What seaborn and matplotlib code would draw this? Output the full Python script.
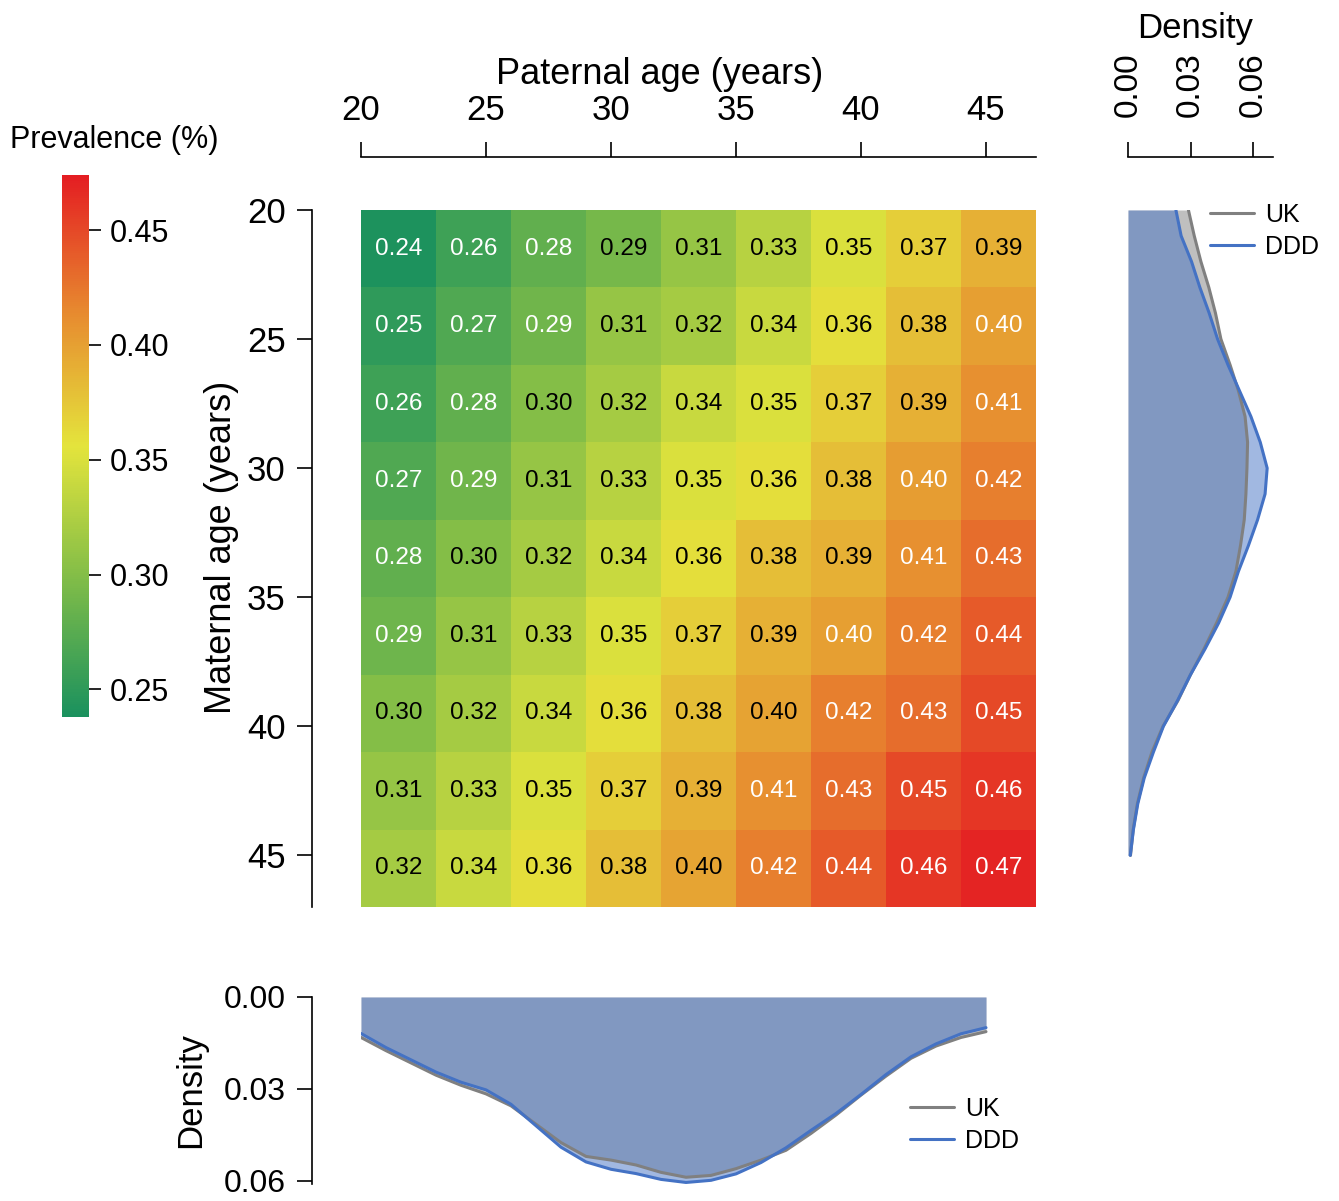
import numpy as np
import pandas as pd
import matplotlib
matplotlib.use("Agg")
import matplotlib.pyplot as plt
from matplotlib.colors import LinearSegmentedColormap
import seaborn as sns

# ---- prevalence grid (rows: maternal age bin, columns: paternal age bin) ----
maternal_ages = [20, 23, 26, 29, 32, 35, 38, 41, 44]
paternal_ages = [20, 23, 26, 29, 32, 35, 38, 41, 44]

prev_m20 = [0.24, 0.26, 0.28, 0.292, 0.31, 0.33, 0.35, 0.37, 0.39]
prev_m23 = [0.25, 0.27, 0.288, 0.31, 0.32, 0.34, 0.36, 0.38, 0.401]
prev_m26 = [0.26, 0.28, 0.30, 0.32, 0.34, 0.35, 0.37, 0.39, 0.41]
prev_m29 = [0.27, 0.288, 0.31, 0.33, 0.35, 0.36, 0.38, 0.402, 0.42]
prev_m32 = [0.28, 0.30, 0.32, 0.34, 0.36, 0.38, 0.39, 0.41, 0.43]
prev_m35 = [0.287, 0.31, 0.33, 0.35, 0.37, 0.39, 0.401, 0.42, 0.44]
prev_m38 = [0.30, 0.32, 0.34, 0.36, 0.38, 0.398, 0.42, 0.43, 0.45]
prev_m41 = [0.31, 0.33, 0.35, 0.37, 0.39, 0.41, 0.43, 0.45, 0.46]
prev_m44 = [0.32, 0.34, 0.36, 0.38, 0.397, 0.42, 0.44, 0.46, 0.47]

age_ticks = [20, 25, 30, 35, 40, 45]
cbar_ticks = [0.25, 0.30, 0.35, 0.40, 0.45]
density_ticks = [0.00, 0.03, 0.06]

# ---- age distributions (density per year of age) ----
density_ages = list(range(20, 46))
maternal_uk = [0.0290, 0.0318, 0.0350, 0.0388, 0.0420, 0.0446, 0.0490, 0.0530,
               0.0562, 0.0574, 0.0571, 0.0566, 0.0558, 0.0540, 0.0518, 0.0480,
               0.0425, 0.0365, 0.0300, 0.0240, 0.0168, 0.0115, 0.0075, 0.0045,
               0.0025, 0.0012]
maternal_ddd = [0.0230, 0.0255, 0.0305, 0.0345, 0.0390, 0.0430, 0.0480, 0.0535,
                0.0590, 0.0635, 0.0668, 0.0658, 0.0622, 0.0578, 0.0530, 0.0490,
                0.0435, 0.0370, 0.0300, 0.0238, 0.0170, 0.0122, 0.0078, 0.0047,
                0.0026, 0.0011]
paternal_uk = [0.0132, 0.0175, 0.0215, 0.0255, 0.0288, 0.0316, 0.0355, 0.0415,
               0.0475, 0.0520, 0.0532, 0.0548, 0.0572, 0.0588, 0.0582, 0.0560,
               0.0532, 0.0500, 0.0445, 0.0385, 0.0320, 0.0258, 0.0200, 0.0160,
               0.0132, 0.0113]
paternal_ddd = [0.0119, 0.0165, 0.0205, 0.0245, 0.0278, 0.0303, 0.0350, 0.0420,
                0.0490, 0.0538, 0.0562, 0.0576, 0.0595, 0.0605, 0.0598, 0.0577,
                0.0540, 0.0492, 0.0435, 0.0380, 0.0318, 0.0253, 0.0195, 0.0153,
                0.0120, 0.0100]

UK_COLOR = "#808080"
DDD_COLOR = "#4472c4"

sns.set_style("white")
plt.rcParams["font.family"] = ["Liberation Sans", "DejaVu Sans"]
plt.rcParams.update({
    "axes.linewidth": 1.2,
    "text.color": "black",
    "axes.labelcolor": "black",
    "xtick.color": "black",
    "ytick.color": "black",
})

W, H = 1339, 1201
fig = plt.figure(figsize=(W / 100, H / 100), dpi=100)


def rect(x0, y0, x1, y1):
    return [x0 / W, 1 - y1 / H, (x1 - x0) / W, (y1 - y0) / H]


OUT_X = 53 * 0.72   # outward offset of the top axis, points
OUT_Y = 49 * 0.72   # outward offset of the left axis, points
TICK_LEN = 15 * 0.72

# ---- heatmap ----
grid = pd.DataFrame([prev_m20, prev_m23, prev_m26, prev_m29, prev_m32,
                     prev_m35, prev_m38, prev_m41, prev_m44],
                    index=maternal_ages, columns=paternal_ages)

cmap = LinearSegmentedColormap.from_list(
    "prev", ["#1a915e", "#7fbc48", "#e4e43c", "#e7892f", "#e41d22"])

ax = fig.add_axes(rect(361, 210, 1036, 907))
cax = fig.add_axes(rect(62, 175, 89, 717))
sns.heatmap(grid, ax=ax, cmap=cmap, vmin=0.238, vmax=0.474, cbar_ax=cax,
            annot=True, fmt=".2f", annot_kws={"size": 17.5}, linewidths=0)

for txt, v in zip(ax.texts, grid.values.flatten()):
    txt.set_color("white" if (v < 0.29 or v >= 0.40) else "black")

pos = [(a - 20) / 3 for a in age_ticks]
ax.set_xticks(pos)
ax.set_xticklabels([str(a) for a in age_ticks], rotation=0)
ax.set_yticks(pos)
ax.set_yticklabels([str(a) for a in age_ticks], rotation=0)
ax.xaxis.tick_top()
ax.xaxis.set_label_position("top")
for s in ["top", "left"]:
    ax.spines[s].set_visible(True)
    ax.spines[s].set_color("black")
    ax.spines[s].set_linewidth(1.2)
ax.spines["top"].set_position(("outward", OUT_X))
ax.spines["left"].set_position(("outward", OUT_Y))
ax.spines["right"].set_visible(False)
ax.spines["bottom"].set_visible(False)
ax.tick_params(axis="x", top=True, bottom=False, labeltop=True, labelbottom=False,
               direction="out", length=TICK_LEN, width=1.2, pad=11, labelsize=25)
ax.tick_params(axis="y", left=True, direction="out", length=TICK_LEN, width=1.2,
               pad=8, labelsize=25)
ax.set_xlabel("Paternal age (years)", fontsize=26, labelpad=7)
ax.set_ylabel("Maternal age (years)", fontsize=26, labelpad=6)
ax.xaxis.label.set_x((660 - 361) / 675)
ax.yaxis.label.set_y(1 - (547 - 210) / 697)

# ---- colour bar ----
cbar = ax.collections[0].colorbar
cbar.outline.set_visible(False)
cbar.set_ticks(cbar_ticks)
cbar.set_ticklabels([f"{t:.2f}" for t in cbar_ticks])
cax.tick_params(labelsize=22, length=12 * 0.72, width=1.2, pad=6, direction="out",
                colors="black")
fig.text(10 / W, 1 - 140 / H, "Prevalence (%)", fontsize=22, ha="left", va="center")

# ---- maternal age distribution (right) ----
axR = fig.add_axes(rect(1128, 210, 1273, 907))
axR.fill_betweenx(density_ages, 0, maternal_uk, color=UK_COLOR, alpha=0.5, linewidth=0)
axR.fill_betweenx(density_ages, 0, maternal_ddd, color=DDD_COLOR, alpha=0.5, linewidth=0)
right_df = pd.DataFrame({"age": density_ages * 2,
                         "density": maternal_uk + maternal_ddd,
                         "cohort": ["UK"] * 26 + ["DDD"] * 26})
sns.lineplot(data=right_df, x="density", y="age", hue="cohort", orient="y",
             estimator=None, palette={"UK": UK_COLOR, "DDD": DDD_COLOR},
             linewidth=2.2, ax=axR)
axR.set_ylim(47, 20)
axR.set_xlim(0, 0.0696)
axR.xaxis.tick_top()
axR.xaxis.set_label_position("top")
axR.set_xticks(density_ticks)
axR.set_xticklabels([f"{t:.2f}" for t in density_ticks])
axR.set_yticks([])
axR.set_ylabel("")
for s in ["left", "right", "bottom"]:
    axR.spines[s].set_visible(False)
axR.spines["top"].set_position(("outward", OUT_X))
axR.spines["top"].set_color("black")
axR.tick_params(axis="x", top=True, bottom=False, labeltop=True, labelbottom=False,
                direction="out", length=TICK_LEN, width=1.2, pad=18, labelsize=24,
                labelrotation=90)
axR.set_xlabel("Density", fontsize=25, labelpad=10)
axR.xaxis.label.set_x((1195 - 1128) / 145)
axR.legend(loc="upper left", bbox_to_anchor=(1210 / W, 1 - 203 / H),
           bbox_transform=fig.transFigure, frameon=False, fontsize=18,
           handlelength=1.75, handletextpad=0.45, labelspacing=0.3,
           borderpad=0, borderaxespad=0)

# ---- paternal age distribution (bottom) ----
axB = fig.add_axes(rect(361, 997, 1036, 1184))
axB.fill_between(density_ages, 0, paternal_uk, color=UK_COLOR, alpha=0.5, linewidth=0)
axB.fill_between(density_ages, 0, paternal_ddd, color=DDD_COLOR, alpha=0.5, linewidth=0)
bottom_df = pd.DataFrame({"age": density_ages * 2,
                          "density": paternal_uk + paternal_ddd,
                          "cohort": ["UK"] * 26 + ["DDD"] * 26})
sns.lineplot(data=bottom_df, x="age", y="density", hue="cohort", estimator=None,
             palette={"UK": UK_COLOR, "DDD": DDD_COLOR}, linewidth=2.2, ax=axB)
axB.set_xlim(20, 47)
axB.set_ylim(0.0610, 0)
axB.set_xticks([])
axB.set_xlabel("")
axB.set_yticks(density_ticks)
axB.set_yticklabels([f"{t:.2f}" for t in density_ticks])
for s in ["top", "right", "bottom"]:
    axB.spines[s].set_visible(False)
axB.spines["left"].set_position(("outward", OUT_Y))
axB.spines["left"].set_color("black")
axB.tick_params(axis="y", left=True, direction="out", length=TICK_LEN, width=1.2,
                pad=8, labelsize=23)
axB.set_ylabel("Density", fontsize=25, labelpad=12)
axB.legend(loc="upper left", bbox_to_anchor=(910 / W, 1 - 1097 / H),
           bbox_transform=fig.transFigure, frameon=False, fontsize=18,
           handlelength=1.75, handletextpad=0.45, labelspacing=0.3,
           borderpad=0, borderaxespad=0)

fig.savefig("out.png", dpi=100)
